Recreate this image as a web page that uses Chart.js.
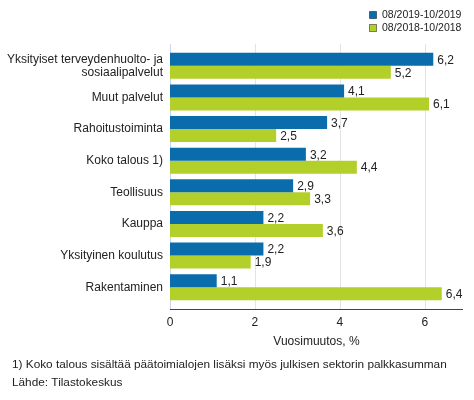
<!DOCTYPE html>
<html>
<head>
<meta charset="utf-8">
<script src="https://cdn.jsdelivr.net/npm/chart.js@4/dist/chart.umd.min.js"></script>
<style>
html,body{margin:0;padding:0;background:#fff;}
#wrap{width:474px;height:400px;position:relative;}
</style>
</head>
<body>
<div id="wrap"><canvas id="c" width="474" height="400"></canvas></div>
<script>
const categories = [
  ["Yksityiset terveydenhuolto- ja", "sosiaalipalvelut"],
  "Muut palvelut",
  "Rahoitustoiminta",
  "Koko talous 1)",
  "Teollisuus",
  "Kauppa",
  "Yksityinen koulutus",
  "Rakentaminen"
];
const series2019 = [6.2, 4.1, 3.7, 3.2, 2.9, 2.2, 2.2, 1.1];
const series2018 = [5.2, 6.1, 2.5, 4.4, 3.3, 3.6, 1.9, 6.4];
const seriesLabels = ["08/2019-10/2019", "08/2018-10/2018"];
const xTicks = [0, 2, 4, 6];
const axisTitle = "Vuosimuutos, %";
const footnote = "1) Koko talous sisältää päätoimialojen lisäksi myös julkisen sektorin palkkasumman";
const source = "Lähde: Tilastokeskus";

const BLUE = "#0a6cab";
const GREEN = "#b3cf2a";
const FONT = "'Liberation Sans', Arial, sans-serif";
const TXT = "#222";
const EXT = 6;

const fmt = v => v.toFixed(1).replace('.', ',');

const extras = {
  id: 'extras',
  beforeDatasetsDraw(chart) {
    const ctx = chart.ctx, a = chart.chartArea, xs = chart.scales.x;
    ctx.save();
    ctx.lineWidth = 1;
    xs.ticks.forEach(t => {
      const x = Math.round(xs.getPixelForValue(t.value)) + 0.5;
      ctx.strokeStyle = t.value === 0 ? '#ccd6eb' : '#e3e3e3';
      ctx.beginPath();
      ctx.moveTo(x, a.top - EXT);
      ctx.lineTo(x, a.bottom + EXT);
      ctx.stroke();
    });
    ctx.strokeStyle = '#444';
    ctx.beginPath();
    const yb = Math.round(a.bottom + EXT) + 0.5;
    ctx.moveTo(a.left, yb);
    ctx.lineTo(a.right, yb);
    ctx.stroke();
    ctx.restore();
  },
  afterDatasetsDraw(chart) {
    const ctx = chart.ctx, a = chart.chartArea;
    ctx.save();
    ctx.font = "12px " + FONT;
    ctx.fillStyle = TXT;
    ctx.textBaseline = 'middle';
    ctx.textAlign = 'left';
    chart.data.datasets.forEach((ds, di) => {
      const meta = chart.getDatasetMeta(di);
      meta.data.forEach((bar, i) => {
        ctx.fillText(fmt(ds.data[i]), bar.x + 4, bar.y + 1);
      });
    });
    // axis title
    ctx.textAlign = 'center';
    ctx.fillText(axisTitle, (a.left + a.right) / 2, 342);
    // footnote
    ctx.textAlign = 'left';
    ctx.font = "11.8px " + FONT;
    ctx.fillText(footnote, 12, 365);
    ctx.fillText(source, 12, 383);
    // legend
    ctx.font = "10.5px " + FONT;
    chart.data.datasets.forEach((ds, di) => {
      const y = 15 + di * 13;
      ctx.fillStyle = ds.backgroundColor;
      ctx.fillRect(369.5, y - 3.5, 7, 7);
      ctx.strokeStyle = 'rgba(0,0,0,0.45)';
      ctx.strokeRect(369.5, y - 3.5, 7, 7);
      ctx.fillStyle = TXT;
      ctx.fillText(ds.label, 382, y + 0.5);
    });
    ctx.restore();
  }
};

new Chart(document.getElementById('c'), {
  type: 'bar',
  data: {
    labels: categories,
    datasets: [
      { label: seriesLabels[0], data: series2019, backgroundColor: BLUE, categoryPercentage: 0.82, barPercentage: 1.0 },
      { label: seriesLabels[1], data: series2018, backgroundColor: GREEN, categoryPercentage: 0.82, barPercentage: 1.0 }
    ]
  },
  options: {
    indexAxis: 'y',
    responsive: false,
    animation: false,
    devicePixelRatio: 1,
    layout: { padding: { top: 50, right: 11, left: 0, bottom: 0 } },
    plugins: { legend: { display: false }, tooltip: { enabled: false } },
    scales: {
      x: {
        min: 0, max: 6.9,
        afterBuildTicks: s => { s.ticks = xTicks.map(v => ({ value: v })); },
        afterFit: s => { s.height = 97; },
        grid: { display: false, drawTicks: false },
        border: { display: false },
        ticks: { font: { size: 12, family: FONT }, color: TXT, padding: 12 }
      },
      y: {
        afterFit: s => { s.width = 170; },
        grid: { display: false, drawTicks: false },
        border: { display: false },
        ticks: { font: { size: 12, family: FONT, lineHeight: 1.1 }, color: TXT, padding: 7 }
      }
    }
  },
  plugins: [extras]
});
</script>
</body>
</html>
